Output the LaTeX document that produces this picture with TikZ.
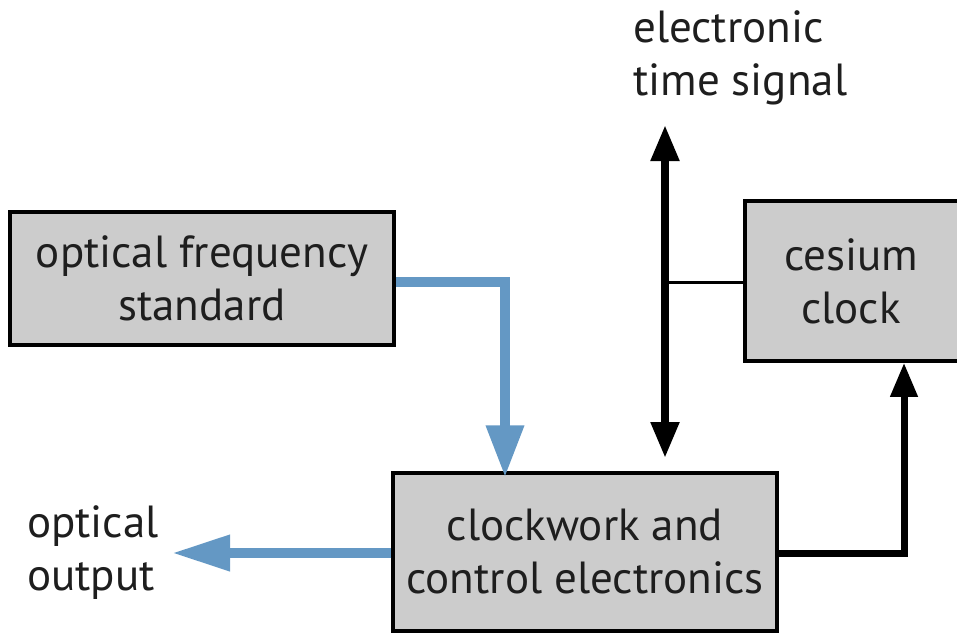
\documentclass[tikz,border=0pt]{standalone}
\usepackage{fontspec}
\setmainfont{PT Sans}
\usetikzlibrary{arrows.meta}
\definecolor{boxgray}{RGB}{204,204,204}
\definecolor{linkblue}{RGB}{100,152,196}
\definecolor{txt}{RGB}{30,30,30}
\tikzset{
  block/.style={draw=black, line width=3.5pt, fill=boxgray, align=center, inner sep=0pt,
    text=txt, font=\fontsize{45}{53}\selectfont},
  label/.style={align=left, anchor=north west, inner sep=0pt, text=txt, font=\fontsize{45}{53}\selectfont},
  bluelink/.style={draw=linkblue, line width=10pt, -{Triangle[length=52pt,width=36pt]}},
  blacklink/.style={draw=black, line width=7pt},
  bothtips/.style={{Triangle[length=36pt,width=27pt]}-{Triangle[length=36pt,width=27pt]}},
}
\begin{document}
\begin{tikzpicture}[x=1pt,y=-1pt]
\useasboundingbox (0,0) rectangle (957,633);
\node[block, minimum width=384pt, minimum height=133pt] (opt) at (202,278.5) {optical frequency\\standard};
\node[block, minimum width=384pt, minimum height=158pt] (clk) at (585,552) {clockwork and\\control electronics};
\node[block, minimum width=220pt, minimum height=160pt, text width=212pt] (cs) at (855,281) {\hspace*{-8pt}cesium\\\hspace*{-8pt}clock};
\node[label] (ets) at (633,10) {electronic\\time signal};
\node[label] (oo) at (27,505) {optical\\output};
% blue links
\coordinate (b1) at (505,282);
\draw[bluelink, line join=miter] (opt.east |- b1) -- (b1) -- ([yshift=-6pt]b1 |- clk.north);
\coordinate (bo) at (172,553);
\draw[bluelink, -{Triangle[length=58pt,width=34pt]}] (clk.west |- bo) -- (bo);
% electronic time signal
\coordinate (vt) at (665,125);
\coordinate (vb) at (665,458);
\coordinate (vm) at (665,282);
\draw[blacklink, bothtips, line width=8pt] (vb) -- (vt);
\draw[black, line width=3pt] (vm) -- (cs.west |- vm);
% clockwork to cesium
\coordinate (rc) at (904,553);
\draw[blacklink, line join=miter, -{Triangle[length=34pt,width=26pt]}] (clk.east |- rc) -- (rc) -- (rc |- cs.south);
\end{tikzpicture}
\end{document}
